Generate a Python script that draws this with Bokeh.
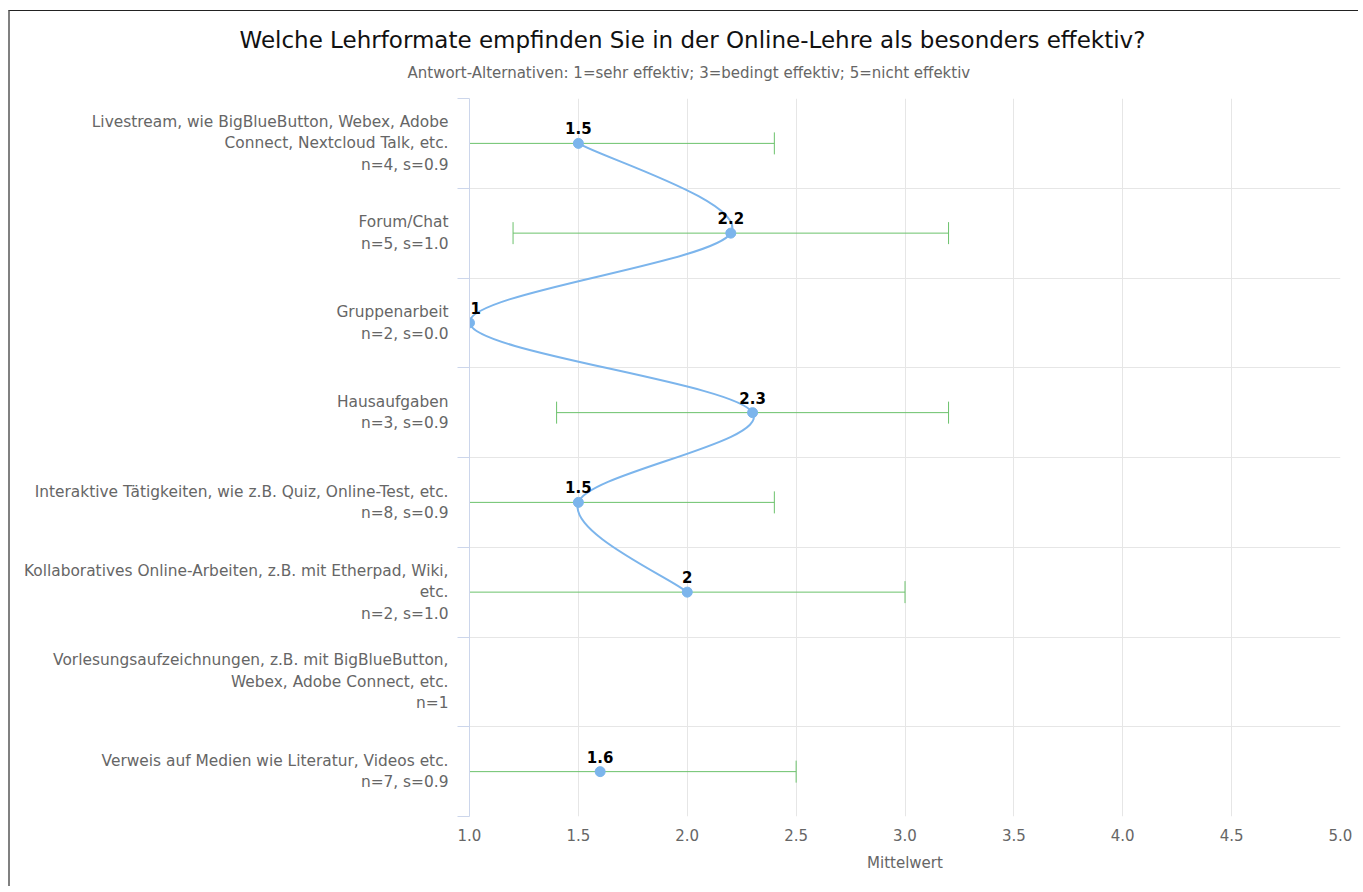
from bokeh.plotting import figure
from bokeh.models import FixedTicker, Range1d, Title, ColumnDataSource
from bokeh.embed import file_html
from bokeh.resources import INLINE
from bokeh.core.properties import value

# ---------------- data ----------------
title_text = "Welche Lehrformate empfinden Sie in der Online-Lehre als besonders effektiv?"
subtitle_text = "Antwort-Alternativen: 1=sehr effektiv; 3=bedingt effektiv; 5=nicht effektiv"
categories = [
    "Livestream, wie BigBlueButton, Webex, Adobe\nConnect, Nextcloud Talk, etc.",
    "Forum/Chat",
    "Gruppenarbeit",
    "Hausaufgaben",
    "Interaktive Tätigkeiten, wie z.B. Quiz, Online-Test, etc.",
    "Kollaboratives Online-Arbeiten, z.B. mit Etherpad, Wiki,\netc.",
    "Vorlesungsaufzeichnungen, z.B. mit BigBlueButton,\nWebex, Adobe Connect, etc.",
    "Verweis auf Medien wie Literatur, Videos etc.",
]
n_values = [4, 5, 2, 3, 8, 2, 1, 7]
means = [1.5, 2.2, 1.0, 2.3, 1.5, 2.0, None, 1.6]
std_devs = [0.9, 1.0, 0.0, 0.9, 0.9, 1.0, None, 0.9]
x_ticks = [1.0, 1.5, 2.0, 2.5, 3.0, 3.5, 4.0, 4.5, 5.0]
x_axis_title = "Mittelwert"

# ---------------- layout ----------------
W, H = 1350, 876
BL, BR, BT, BB = 459, 20, 87, 71
FW, FH = W - BL - BR, H - BT - BB
XMIN, XMAX = x_ticks[0], x_ticks[-1]
NC = len(categories)

GRID = "#e6e6e6"
AXIS_BLUE = "#ccd6eb"
LABEL_GREY = "#666666"
SERIES = "#7cb5ec"
ERR = "#6cc26c"
FONT = "DejaVu Sans"

p = figure(width=W, height=H, output_backend="svg", toolbar_location=None,
           x_range=Range1d(XMIN, XMAX), y_range=Range1d(NC - 0.5, -0.5),
           min_border_left=BL, min_border_right=BR, min_border_top=BT, min_border_bottom=BB,
           outline_line_color=None, background_fill_color="white", border_fill_color="white")
p.styles = {"margin-left": "8px", "margin-top": "10px",
            "border-top": "1px solid #222222", "border-left": "2px solid #808080"}

# y axis: labels at category centers, ticks/grid at boundaries
ycent = list(range(NC))
ybound = [i - 0.5 for i in range(NC + 1)]
labels = []
for c, n, s in zip(categories, n_values, std_devs):
    labels.append(c + "\n" + (f"n={n}, s={s:.1f}" if s is not None else f"n={n}"))
yax = p.yaxis[0]
yax.ticker = FixedTicker(ticks=ycent, minor_ticks=ybound)
yax.major_label_overrides = {i: labels[i] for i in range(NC)}
yax.major_tick_line_color = None
yax.major_tick_out = 0
yax.major_tick_in = 0
yax.minor_tick_line_color = AXIS_BLUE
yax.minor_tick_out = 12
yax.minor_tick_in = 0
yax.axis_line_color = AXIS_BLUE
yax.major_label_standoff = 9
yax.major_label_text_font = FONT
yax.major_label_text_font_size = "15.4px"
yax.major_label_text_color = LABEL_GREY
yax.major_label_text_align = "right"
p.ygrid.ticker = FixedTicker(ticks=ybound)
p.ygrid.grid_line_color = GRID

# x axis
xax = p.xaxis[0]
xax.ticker = FixedTicker(ticks=x_ticks)
xax.major_label_overrides = {t: f"{t:.1f}" for t in x_ticks}
xax.axis_line_color = None
xax.major_tick_line_color = None
xax.minor_tick_line_color = None
xax.major_label_standoff = 6
xax.major_label_text_font = FONT
xax.major_label_text_font_size = "15px"
xax.major_label_text_color = LABEL_GREY
xax.axis_label = x_axis_title
xax.axis_label_text_font = FONT
xax.axis_label_text_font_size = "15px"
xax.axis_label_text_font_style = "normal"
xax.axis_label_text_color = LABEL_GREY
xax.axis_label_standoff = 10
p.xgrid.ticker = FixedTicker(ticks=x_ticks)
p.xgrid.grid_line_color = GRID

# ---------------- error bars ----------------
px_y = FH / NC
cap = 11 / px_y
eb_y, eb_lo, eb_hi = [], [], []
for i, (m, s) in enumerate(zip(means, std_devs)):
    if m is None:
        continue
    eb_y.append(i)
    eb_lo.append(m - s)
    eb_hi.append(m + s)
p.segment(x0=eb_lo, y0=eb_y, x1=eb_hi, y1=eb_y, line_color=ERR, line_width=1)
p.segment(x0=eb_lo, y0=[y - cap for y in eb_y], x1=eb_lo, y1=[y + cap for y in eb_y], line_color=ERR, line_width=1)
p.segment(x0=eb_hi, y0=[y - cap for y in eb_y], x1=eb_hi, y1=[y + cap for y in eb_y], line_color=ERR, line_width=1)

# ---------------- smooth curve (Catmull-Rom through consecutive points) ----------------
runs, cur = [], []
for i, m in enumerate(means):
    if m is None:
        if cur:
            runs.append(cur)
        cur = []
    else:
        cur.append((m, i))
if cur:
    runs.append(cur)

bz = dict(x0=[], y0=[], x1=[], y1=[], cx0=[], cy0=[], cx1=[], cy1=[])
for run in runs:
    n = len(run)
    for k in range(n - 1):
        p0 = run[max(k - 1, 0)]
        p1 = run[k]
        p2 = run[k + 1]
        p3 = run[min(k + 2, n - 1)]
        c0 = (p1[0] + (p2[0] - p0[0]) / 6, p1[1] + (p2[1] - p0[1]) / 6)
        c1 = (p2[0] - (p3[0] - p1[0]) / 6, p2[1] - (p3[1] - p1[1]) / 6)
        bz["x0"].append(p1[0]); bz["y0"].append(p1[1])
        bz["x1"].append(p2[0]); bz["y1"].append(p2[1])
        bz["cx0"].append(c0[0]); bz["cy0"].append(c0[1])
        bz["cx1"].append(c1[0]); bz["cy1"].append(c1[1])
p.bezier(source=ColumnDataSource(bz), x0="x0", y0="y0", x1="x1", y1="y1",
         cx0="cx0", cy0="cy0", cx1="cx1", cy1="cy1", line_color=SERIES, line_width=2)

# ---------------- points & labels ----------------
pt_x = [m for m in means if m is not None]
pt_y = [i for i, m in enumerate(means) if m is not None]
p.scatter(pt_x, pt_y, size=10, color=SERIES, line_color=SERIES)
lab_txt = [f"{m:g}" for m in pt_x]
lab_align = ["left" if m <= XMIN else "center" for m in pt_x]
lab_dx = [1 if m <= XMIN else 0 for m in pt_x]
p.text(x=pt_x, y=pt_y, text=lab_txt, text_align=lab_align, x_offset=lab_dx, y_offset=-15,
       text_baseline="alphabetic", text_font=value(FONT), text_font_size="15px",
       text_font_style="bold", text_color="black")

# ---------------- title / subtitle ----------------
# invisible spacer between plot area and subtitle
p.add_layout(Title(text=" ", align="left", standoff=5, text_font=FONT,
                   text_font_size="1px", text_color="white"), "above")
p.add_layout(Title(text=subtitle_text, align="left", offset=-62, standoff=18,
                   text_font=FONT, text_font_size="15px", text_font_style="normal",
                   text_color=LABEL_GREY), "above")
p.add_layout(Title(text=title_text, align="left", offset=-230, standoff=0,
                   text_font=FONT, text_font_size="23px", text_font_style="normal",
                   text_color="#111111"), "above")

open("out.html", "w").write(file_html(p, INLINE))
